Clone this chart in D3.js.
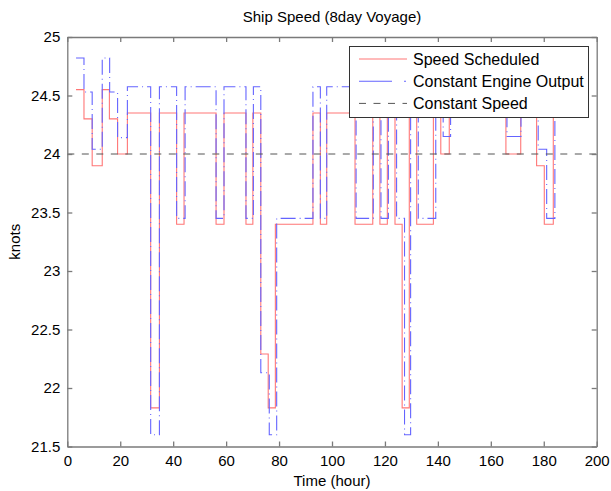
<!DOCTYPE html>
<html>
<head>
    <title>Ship Speed</title>
    <style>
        body { margin: 0; background: #ffffff; }
        #chart { display: block; }
        text { font-family: "Liberation Sans", Arial, sans-serif; fill: #000; }
    </style>
    <script src="https://d3js.org/d3.v7.min.js"></script>
</head>
<body>
    <svg id="chart" width="611" height="491"></svg>
    <script>
        // step breakpoints (hour) and speed (knots)
        var scheduledTimes = [3.3, 6.3, 9.4, 13.2, 15.9, 19.0, 22.7, 31.5, 34.8, 41.3, 44.1, 56.2, 59.2, 67.5, 70.1, 73.1, 75.9, 78.6, 92.8, 95.6, 98.0, 108.7, 115.4, 118.1, 120.9, 123.8, 126.5, 129.2, 132.0, 138.3, 141.1, 144.3, 165.7, 171.3, 177.3, 180.2, 183.6, 184.6];
        var scheduledSpeeds = [24.55, 24.3, 23.9, 24.55, 24.3, 24.0, 24.35, 21.83, 24.35, 23.4, 24.35, 23.4, 24.35, 23.4, 24.35, 22.29, 21.83, 23.4, 24.35, 23.4, 24.35, 23.4, 24.35, 23.4, 24.35, 23.4, 21.83, 24.35, 23.4, 24.35, 24.0, 24.35, 24.0, 24.35, 23.9, 23.4, 24.35, 24.35];

        var engineTimes = [3.3, 6.3, 9.4, 13.2, 16.0, 19.0, 22.7, 31.5, 34.8, 41.3, 44.5, 56.2, 59.2, 67.5, 70.3, 73.1, 76.3, 79.1, 92.8, 95.6, 98.0, 109.1, 115.6, 118.5, 121.3, 124.4, 127.4, 129.7, 132.6, 139.2, 142.0, 144.8, 166.1, 171.4, 177.9, 181.1, 184.2, 185.2];
        var engineSpeeds = [24.82, 24.53, 24.04, 24.82, 24.53, 24.14, 24.575, 21.6, 24.575, 23.45, 24.575, 23.45, 24.575, 23.45, 24.575, 22.13, 21.6, 23.45, 24.575, 23.45, 24.575, 23.45, 24.575, 23.45, 24.575, 23.45, 21.6, 24.575, 23.45, 24.575, 24.15, 24.575, 24.15, 24.575, 24.04, 23.45, 24.575, 24.575];

        var constantTimes = [0, 200];
        var constantSpeeds = [24, 24];

        var xTicks = [0, 20, 40, 60, 80, 100, 120, 140, 160, 180, 200];
        var yTicks = [21.5, 22, 22.5, 23, 23.5, 24, 24.5, 25];
        var seriesNames = ["Speed Scheduled", "Constant Engine Output", "Constant Speed"];

        var svg = d3.select("#chart");
        var plotLeft = 67.3, plotRight = 596.7, plotTop = 37, plotBottom = 446.5;

        var x = d3.scaleLinear().domain([0, 200]).range([plotLeft, plotRight]);
        var y = d3.scaleLinear().domain([21.5, 25]).range([plotBottom, plotTop]);

        svg.append("defs").append("clipPath").attr("id", "plotClip")
            .append("rect")
            .attr("x", plotLeft).attr("y", plotTop)
            .attr("width", plotRight - plotLeft).attr("height", plotBottom - plotTop);

        var styles = [
            { color: "#ff7676", dash: null, width: 1.1 },
            { color: "#6464ff", dash: "15,4,1,4", width: 1.1 },
            { color: "#555555", dash: "7,7.5", width: 1 }
        ];

        function pairs(ts, vs) {
            return ts.map(function(t, i) { return [t, vs[i]]; });
        }

        var step = d3.line()
            .x(function(d) { return x(d[0]); })
            .y(function(d) { return y(d[1]); })
            .curve(d3.curveStepAfter);

        var lines = svg.append("g").attr("clip-path", "url(#plotClip)");
        [pairs(scheduledTimes, scheduledSpeeds), pairs(engineTimes, engineSpeeds), pairs(constantTimes, constantSpeeds)]
            .forEach(function(data, i) {
                lines.append("path")
                    .attr("d", step(data))
                    .attr("fill", "none")
                    .attr("stroke", styles[i].color)
                    .attr("stroke-width", styles[i].width)
                    .attr("stroke-dasharray", styles[i].dash);
            });

        // axes, matlab box with inward ticks
        function styleAxis(g) {
            g.selectAll(".domain").attr("stroke", "#7a7a7a").attr("stroke-width", 1.3);
            g.selectAll(".tick line").attr("stroke", "#7a7a7a").attr("stroke-width", 1.3);
            g.selectAll("text").style("font-size", "15px").attr("fill", "#000");
        }

        svg.append("g").attr("transform", "translate(0," + plotBottom + ")")
            .call(d3.axisBottom(x).tickValues(xTicks).tickSizeInner(-5).tickSizeOuter(0).tickPadding(9))
            .call(styleAxis);
        svg.append("g").attr("transform", "translate(0," + plotTop + ")")
            .call(d3.axisTop(x).tickValues(xTicks).tickSizeInner(-5).tickSizeOuter(0).tickFormat(""))
            .call(styleAxis);
        svg.append("g").attr("transform", "translate(" + plotLeft + ",0)")
            .call(d3.axisLeft(y).tickValues(yTicks).tickSizeInner(-5).tickSizeOuter(0).tickPadding(7).tickFormat(d3.format("")))
            .call(styleAxis);
        svg.append("g").attr("transform", "translate(" + plotRight + ",0)")
            .call(d3.axisRight(y).tickValues(yTicks).tickSizeInner(-5).tickSizeOuter(0).tickFormat(""))
            .call(styleAxis);

        svg.append("text")
            .attr("x", (plotLeft + plotRight) / 2).attr("y", 22)
            .attr("text-anchor", "middle")
            .style("font-size", "15px")
            .text("Ship Speed (8day Voyage)");

        svg.append("text")
            .attr("x", (plotLeft + plotRight) / 2).attr("y", 486)
            .attr("text-anchor", "middle")
            .style("font-size", "15px")
            .text("Time (hour)");

        svg.append("text")
            .attr("transform", "translate(20," + ((plotTop + plotBottom) / 2) + ") rotate(-90)")
            .attr("text-anchor", "middle")
            .style("font-size", "15px")
            .text("knots");

        // legend
        var legend = svg.append("g");
        legend.append("rect")
            .attr("x", 349.5).attr("y", 46.5)
            .attr("width", 239).attr("height", 71)
            .attr("fill", "#fff")
            .attr("stroke", "#333").attr("stroke-width", 1);

        seriesNames.forEach(function(name, i) {
            var ly = 59 + i * 22.2;
            legend.append("line")
                .attr("x1", 359).attr("x2", 407)
                .attr("y1", ly).attr("y2", ly)
                .attr("stroke", styles[i].color)
                .attr("stroke-width", styles[i].width)
                .attr("stroke-dasharray", i == 1 ? "33,12,2,4" : styles[i].dash);
            legend.append("text")
                .attr("x", 413).attr("y", ly)
                .attr("dy", "0.35em")
                .style("font-size", "16px")
                .text(name);
        });
    </script>
</body>
</html>
